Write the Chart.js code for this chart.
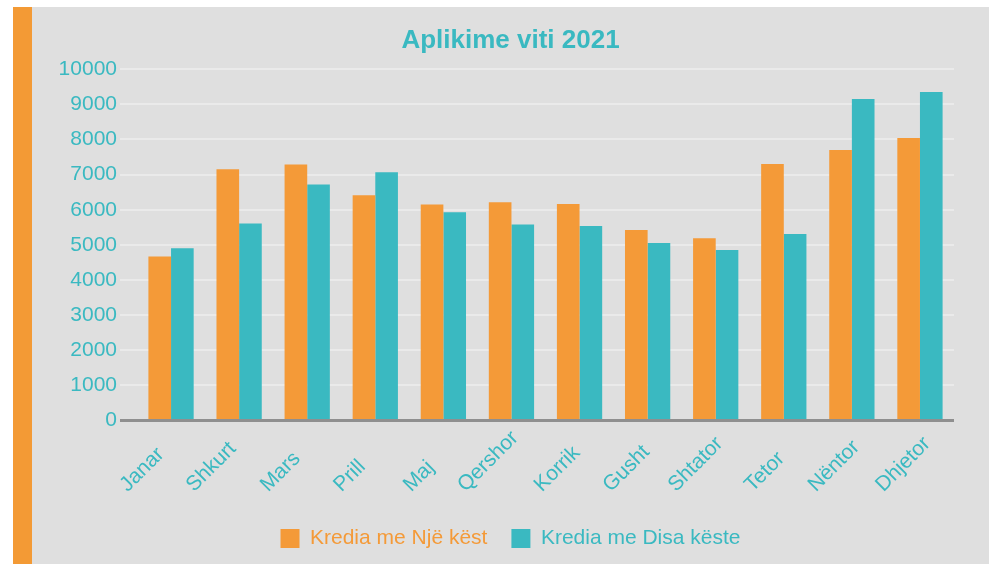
<!DOCTYPE html>
<html>
<head>
<meta charset="utf-8">
<script src="https://cdn.jsdelivr.net/npm/chart.js@4.4.0/dist/chart.umd.min.js"></script>
<style>
  html, body { margin: 0; padding: 0; background: #ffffff; width: 989px; height: 564px; overflow: hidden; }
  #bg { position: absolute; left: 13px; top: 7px; width: 976px; height: 557px; background: #dfdfdf; }
  #stripe { position: absolute; left: 13px; top: 7px; width: 19px; height: 557px; background: #f39a35; }
  #wrap { position: absolute; left: 32px; top: 7px; width: 930px; height: 557px; }
</style>
</head>
<body>
<div id="bg"></div>
<div id="stripe"></div>
<div id="wrap"><canvas id="c" width="930" height="557"></canvas></div>
<script>
const titleText = 'Aplikime viti 2021';
const months = ['Janar','Shkurt','Mars','Prill','Maj','Qershor','Korrik','Gusht','Shtator','Tetor','Nëntor','Dhjetor'];
const seriesNames = ['Kredia me Një këst','Kredia me Disa këste'];
const singleInstalment = [4670,7150,7290,6410,6150,6210,6160,5420,5190,7300,7700,8040];
const multiInstalment = [4900,5610,6720,7070,5930,5580,5540,5050,4850,5310,9150,9350];
const yMin = 0, yMax = 10000, yStep = 1000;

const ORANGE = '#f49a38';
const TEAL = '#3ab9c1';
const FONT = 'Liberation Sans, Arial, Helvetica, sans-serif';
const LABEL_SIZE = 21;

// Category labels: rotated 45°, bottom-aligned in the label band, centred a little left of each tick
const categoryLabels = {
  id: 'categoryLabels',
  afterDraw(chart) {
    const sx = chart.scales.x;
    const ctx = chart.ctx;
    const ang = Math.PI / 4, c = Math.cos(ang), s = Math.sin(ang);
    const capH = 0.716 * LABEL_SIZE;
    ctx.save();
    ctx.font = LABEL_SIZE + 'px ' + FONT;
    ctx.fillStyle = TEAL;
    ctx.textAlign = 'left';
    ctx.textBaseline = 'alphabetic';
    sx.ticks.forEach((t, i) => {
      const text = chart.data.labels[i];
      const w = ctx.measureText(text).width;
      const cx = sx.getPixelForTick(i) - 30 + 1.1 * i;
      const x0 = cx - (w * c - capH * s) / 2;
      const y0 = sx.top + 72;
      ctx.save();
      ctx.translate(x0, y0);
      ctx.rotate(-ang);
      ctx.fillText(text, 0, 0);
      ctx.restore();
    });
    ctx.restore();
  }
};

new Chart(document.getElementById('c'), {
  type: 'bar',
  data: {
    labels: months,
    datasets: [
      { label: seriesNames[0], data: singleInstalment, backgroundColor: ORANGE, borderWidth: 0,
        categoryPercentage: 0.665, barPercentage: 1.0 },
      { label: seriesNames[1], data: multiInstalment, backgroundColor: TEAL, borderWidth: 0,
        categoryPercentage: 0.665, barPercentage: 1.0 }
    ]
  },
  plugins: [categoryLabels],
  options: {
    responsive: false,
    devicePixelRatio: 1,
    animation: false,
    layout: { padding: { left: 27, right: 0, top: 0, bottom: 5 } },
    plugins: {
      title: {
        display: true, text: titleText, color: TEAL,
        font: { family: FONT, size: 26, weight: 'bold' },
        padding: { top: 18, bottom: 13 }
      },
      legend: {
        display: true, position: 'bottom',
        labels: {
          boxWidth: 19, boxHeight: 19, padding: 24,
          font: { family: FONT, size: 21 },
          generateLabels: (chart) => {
            const items = Chart.defaults.plugins.legend.labels.generateLabels(chart);
            return items.map(it => Object.assign(it, {
              fontColor: it.fillStyle, strokeStyle: it.fillStyle, lineWidth: 0
            }));
          }
        }
      },
      tooltip: { enabled: false }
    },
    scales: {
      x: {
        grid: { display: false },
        border: { display: false },
        ticks: { display: false, autoSkip: false },
        afterFit: (s) => { s.height = 83.5; }
      },
      y: {
        min: yMin, max: yMax,
        border: { display: false },
        grid: {
          drawTicks: true, tickLength: 17,
          color: (ctx) => (ctx.tick && ctx.tick.value === 0) ? '#8f8f8f' : '#eaeaea',
          lineWidth: (ctx) => (ctx.tick && ctx.tick.value === 0) ? 3 : 2
        },
        ticks: {
          stepSize: yStep, color: TEAL, padding: 3,
          font: { family: FONT, size: 21 },
          callback: (v) => String(v)
        },
        afterFit: (s) => { s.width = 78; }
      },
      ySpacer: {
        position: 'right', display: true,
        grid: { display: false }, border: { display: false },
        ticks: { display: false },
        afterFit: (s) => { s.width = 8; }
      }
    }
  }
});
</script>
</body>
</html>
